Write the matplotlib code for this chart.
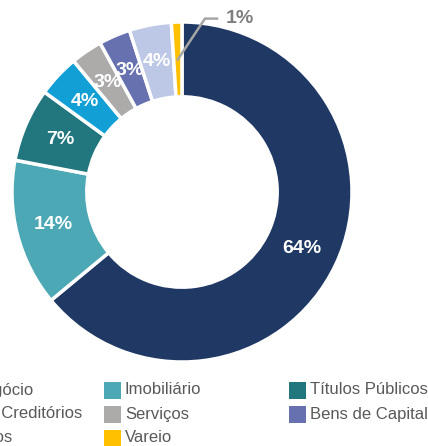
import matplotlib.pyplot as plt
import numpy as np
from matplotlib.patches import Rectangle

# data
sectors = ["Agronegócio", "Imobiliário", "Títulos Públicos", "Direitos Creditórios",
           "Serviços", "Bens de Capital", "Alimentos", "Vareio"]
shares = [64, 14, 7, 4, 3, 3, 4, 1]
colors = ["#203864", "#4BA8B4", "#22777F", "#119FD6", "#ADAAAA", "#6771B0", "#BDC7E6", "#FFC000"]

W, H = 428, 446
fig = plt.figure(figsize=(W / 100, H / 100), dpi=100)

# donut geometry in pixels
cx, cy, R = 182, 192, 170
lim = 1.1
box = 2 * lim * R
ax = fig.add_axes([(cx - box / 2) / W, (H - cy - box / 2) / H, box / W, box / H])

wedges, _ = ax.pie(
    shares,
    colors=colors,
    startangle=90,
    counterclock=False,
    radius=1.0,
    wedgeprops=dict(width=0.44, edgecolor="white", linewidth=2.5),
)
ax.set_xlim(-lim, lim)
ax.set_ylim(-lim, lim)
ax.set_aspect("equal")
ax.axis("off")

# labels
label_r = 0.78
for i, (w, s) in enumerate(zip(wedges, shares)):
    mid = np.deg2rad((w.theta1 + w.theta2) / 2)
    x, y = label_r * np.cos(mid), label_r * np.sin(mid)
    if sectors[i] == "Vareio":
        ax.plot([x, 0.135, 0.206], [y, 1.02, 1.02], color="#A6A6A6", lw=1.8, clip_on=False)
        ax.text(0.255, 1.02, f"{s}%", color="#7F7F7F", fontsize=14, fontweight="bold",
                ha="left", va="center", family="Liberation Sans")
    else:
        ax.text(x, y, f"{s}%", color="white", fontsize=14, fontweight="bold",
                ha="center", va="center", family="Liberation Sans")

# legend, three columns, rows filled left to right
col_x = [-81, 104, 289]
row_y = [390, 414, 438]
sq = 17
for i, name in enumerate(sectors):
    r, c = divmod(i, 3)
    x0, yc = col_x[c], row_y[r]
    fig.patches.append(Rectangle((x0 / W, (H - yc - sq / 2) / H), sq / W, sq / H,
                                 transform=fig.transFigure, facecolor=colors[i],
                                 edgecolor="none"))
    fig.text((x0 + sq + 4) / W, (H - yc) / H, name, fontsize=12, color="#595959",
             ha="left", va="center", family="Liberation Sans")

fig.savefig("out.png", dpi=100)
